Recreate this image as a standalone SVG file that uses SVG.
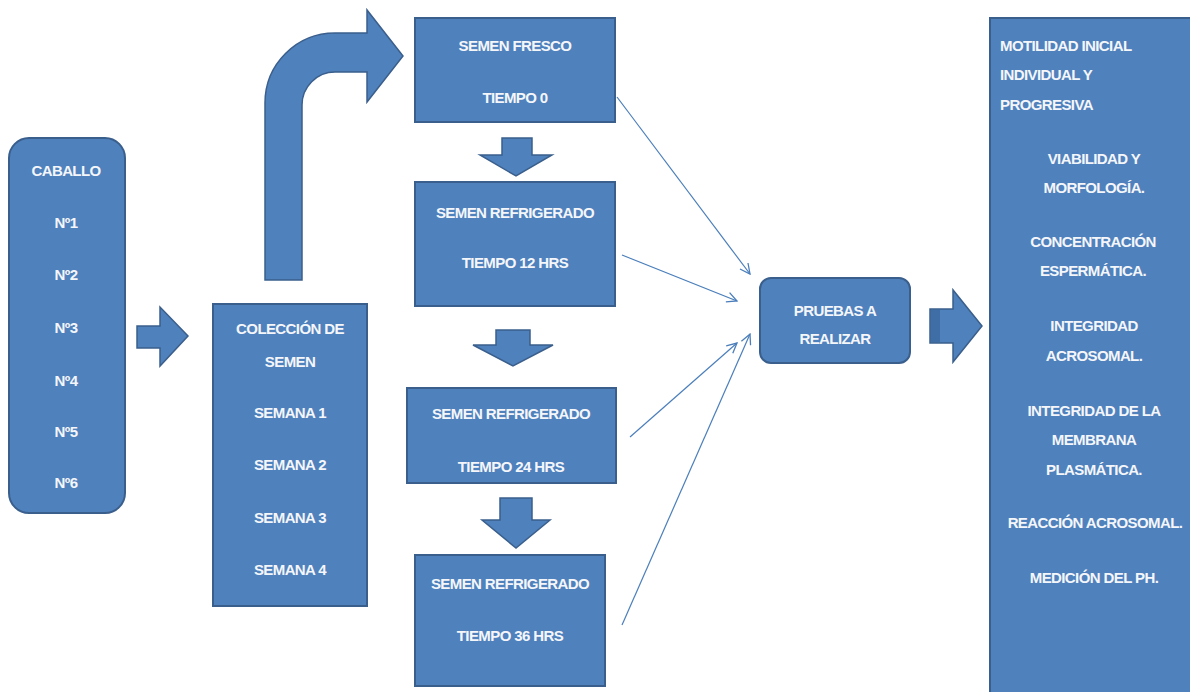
<svg xmlns="http://www.w3.org/2000/svg" width="1190" height="692" viewBox="0 0 1190 692">
  <style>
    .box { fill: #4F81BD; stroke: #3A5F8C; stroke-width: 2; }
    .blk { fill: #4F81BD; stroke: #3A5F8C; stroke-width: 1.5; stroke-linejoin: miter; }
    .lbl { font-family: "Liberation Sans", Arial, sans-serif; font-size: 15px; font-weight: bold; fill: #F4F6FA; text-anchor: middle; letter-spacing: -0.6px; }
    .lft { text-anchor: start; }
    .wire { fill: none; stroke: #4A7EBB; stroke-width: 1.2; }
  </style>
  <defs>
    <marker id="open" viewBox="0 0 12 12" refX="11" refY="6" markerWidth="12" markerHeight="12" markerUnits="userSpaceOnUse" orient="auto">
      <path d="M1,1 L11,6 L1,11" fill="none" stroke="#4A7EBB" stroke-width="1.3"/>
    </marker>
  </defs>
  <rect width="1190" height="692" fill="#FFFFFF"/>

  <!-- horses -->
  <g id="caballo">
    <rect class="box" x="9" y="138" width="116" height="375" rx="20"/>
    <text class="lbl" x="66" y="176">CABALLO</text>
    <text class="lbl" x="66" y="228">Nº1</text>
    <text class="lbl" x="66" y="280">Nº2</text>
    <text class="lbl" x="66" y="333">Nº3</text>
    <text class="lbl" x="66" y="386">Nº4</text>
    <text class="lbl" x="66" y="437">Nº5</text>
    <text class="lbl" x="66" y="488">Nº6</text>
  </g>

  <!-- semen collection -->
  <g id="coleccion">
    <rect class="box" x="213" y="304" width="154" height="302"/>
    <text class="lbl" x="290" y="334">COLECCIÓN DE</text>
    <text class="lbl" x="290" y="367">SEMEN</text>
    <text class="lbl" x="290" y="418">SEMANA 1</text>
    <text class="lbl" x="290" y="470">SEMANA 2</text>
    <text class="lbl" x="290" y="523">SEMANA 3</text>
    <text class="lbl" x="290" y="575">SEMANA 4</text>
  </g>

  <g id="fresco">
    <rect class="box" x="415" y="18" width="200" height="104"/>
    <text class="lbl" x="515" y="51">SEMEN FRESCO</text>
    <text class="lbl" x="515" y="103">TIEMPO 0</text>
  </g>

  <g id="refrigerado12">
    <rect class="box" x="415" y="182" width="200" height="124"/>
    <text class="lbl" x="515" y="218">SEMEN REFRIGERADO</text>
    <text class="lbl" x="515" y="268">TIEMPO 12 HRS</text>
  </g>

  <g id="refrigerado24">
    <rect class="box" x="407" y="388" width="209" height="95"/>
    <text class="lbl" x="511" y="419">SEMEN REFRIGERADO</text>
    <text class="lbl" x="511" y="472">TIEMPO 24 HRS</text>
  </g>

  <g id="refrigerado36">
    <rect class="box" x="415" y="555" width="190" height="131"/>
    <text class="lbl" x="510" y="589">SEMEN REFRIGERADO</text>
    <text class="lbl" x="510" y="641">TIEMPO 36 HRS</text>
  </g>

  <g id="pruebas">
    <rect class="box" x="760" y="278" width="150" height="85" rx="11"/>
    <text class="lbl" x="835" y="316">PRUEBAS A</text>
    <text class="lbl" x="835" y="344">REALIZAR</text>
  </g>

  <g id="lista">
    <rect class="box" x="990" y="18" width="210" height="690"/>
    <text class="lbl lft" x="1000" y="51">MOTILIDAD INICIAL</text>
    <text class="lbl lft" x="1000" y="80">INDIVIDUAL Y</text>
    <text class="lbl lft" x="1000" y="110">PROGRESIVA</text>
    <text class="lbl" x="1094" y="164">VIABILIDAD Y</text>
    <text class="lbl" x="1094" y="193">MORFOLOGÍA.</text>
    <text class="lbl" x="1093" y="247">CONCENTRACIÓN</text>
    <text class="lbl" x="1093" y="276">ESPERMÁTICA.</text>
    <text class="lbl" x="1094" y="331">INTEGRIDAD</text>
    <text class="lbl" x="1094" y="361">ACROSOMAL.</text>
    <text class="lbl" x="1094" y="416">INTEGRIDAD DE LA</text>
    <text class="lbl" x="1094" y="445">MEMBRANA</text>
    <text class="lbl" x="1094" y="475">PLASMÁTICA.</text>
    <text class="lbl" x="1095" y="528">REACCIÓN ACROSOMAL.</text>
    <text class="lbl" x="1094" y="583">MEDICIÓN DEL PH.</text>
  </g>

  <!-- block arrows and thin connectors -->
  <g id="connectors">
    <path class="blk" d="M137,326 H160 V307 L188,336 L160,366 V348 H137 Z"/>
    <path class="blk" d="M265,280 V103 A70,70 0 0 1 335,33 H367 V10 L403,56 L367,102 V72 H335 A33,33 0 0 0 302,105 V280 Z"/>
    <path class="blk" d="M502,138 H532 V155 H552 L516,176 L480,155 H502 Z"/>
    <path class="blk" d="M496,330 H530 V345 H553 L513,366 L473,345 H496 Z"/>
    <path class="blk" d="M500,498 H532 V520 H550 L516,548 L482,520 H500 Z"/>
    <path class="blk" d="M930,309 H953 V290 L982,326 L953,362 V343 H930 Z"/>
    <rect x="931" y="310" width="9" height="32" fill="#3F6DA6"/>

    <line class="wire" x1="617" y1="97" x2="750" y2="274" marker-end="url(#open)"/>
    <line class="wire" x1="622" y1="255" x2="737" y2="301" marker-end="url(#open)"/>
    <line class="wire" x1="630" y1="437" x2="737" y2="343" marker-end="url(#open)"/>
    <line class="wire" x1="622" y1="625" x2="750" y2="334" marker-end="url(#open)"/>
  </g>
</svg>
